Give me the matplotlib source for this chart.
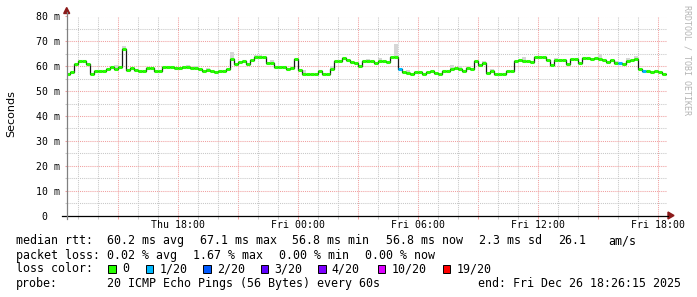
import numpy as np
import pandas as pd
import matplotlib
matplotlib.use('Agg')
import matplotlib.pyplot as plt
import matplotlib.dates as mdates
from matplotlib.ticker import MultipleLocator, FuncFormatter
from matplotlib.patches import Polygon, Rectangle
from matplotlib.lines import Line2D

W, H = 697, 297
MONO = 'DejaVu Sans Mono'

# median rtt (ms), one value per 12 min step, first step starts Thu 25 Dec 12:24
median_ms = [
    56.7, 57.8, 61.0, 62.0, 62.0, 61.0, 57.0, 58.2, 58.2, 58.2,
    59.0, 59.5, 58.8, 59.5, 67.1, 58.5, 59.3, 58.6, 58.0, 58.0,
    59.2, 59.2, 58.0, 58.0, 59.5, 59.5, 59.5, 59.4, 59.4, 59.5,
    59.5, 59.4, 59.4, 58.8, 58.2, 58.6, 58.0, 57.8, 58.2, 58.2,
    59.0, 63.0, 60.8, 61.7, 62.2, 60.8, 62.4, 63.7, 63.7, 63.7,
    61.4, 61.4, 59.5, 59.5, 59.5, 58.8, 59.4, 63.0, 58.4, 57.0,
    57.0, 57.0, 57.0, 58.2, 56.9, 56.9, 58.8, 62.2, 62.2, 63.3,
    62.4, 61.8, 61.3, 60.2, 62.0, 62.2, 62.0, 61.5, 62.0, 62.0,
    61.7, 63.7, 63.7, 58.8, 57.5, 57.3, 56.8, 57.5, 57.5, 56.8,
    57.6, 58.2, 57.3, 56.8, 58.0, 58.0, 58.7, 59.4, 58.7, 58.2,
    59.2, 58.7, 62.2, 60.5, 61.4, 57.3, 58.2, 56.9, 56.8, 56.8,
    58.0, 58.0, 62.0, 62.7, 62.0, 62.0, 61.7, 63.7, 63.7, 63.7,
    62.5, 60.5, 62.4, 62.5, 62.5, 60.8, 62.8, 62.8, 61.5, 63.5,
    63.5, 63.1, 63.5, 63.1, 62.7, 61.8, 62.4, 61.4, 61.4, 60.8,
    62.2, 62.7, 63.1, 58.8, 58.0, 58.0, 57.5, 57.9, 57.8, 56.8,
]
# steps where 1 of 20 pings got lost
loss_steps = [83, 138, 144]
# grey smoke above the median: step index and top of the ping spread (ms)
smoke_steps = [12, 14, 25, 30, 32, 35, 41, 47, 48, 51, 59, 66, 70, 75,
               78, 82, 85, 96, 98, 104, 106, 114, 122, 133, 137, 140, 142]
smoke_top = [60.7, 68.0, 60.3, 60.7, 60.2, 59.4, 65.8, 64.5, 64.5, 62.4,
             58.4, 60.0, 63.0, 63.1, 63.5, 69.1, 58.4, 60.7, 60.2, 62.3,
             58.7, 63.8, 63.5, 64.9, 62.0, 63.3, 64.2]

loss_labels = ['0', '1/20', '2/20', '3/20', '4/20', '10/20', '19/20']
loss_colors = ['#26ff00', '#00b8ff', '#0059ff', '#5e00ff', '#7e00ff', '#dd00ff', '#ff0000']

rtt_stats = ['60.2 ms avg', '67.1 ms max', '56.8 ms min', '56.8 ms now', '2.3 ms sd', '26.1', 'am/s']
loss_stats = ['0.02 % avg', '1.67 % max', '0.00 % min', '0.00 % now']

start = pd.Timestamp('2025-12-25 12:24')
t_begin = pd.Timestamp('2025-12-25 12:26:15')
t_end = pd.Timestamp('2025-12-26 18:26:15')
step_days = 12 / 1440.0

med = np.array(median_ms)
times = start + pd.to_timedelta(12 * np.arange(len(med)), unit='m')
tnum = mdates.date2num(times.to_pydatetime())

colors = [loss_colors[0]] * len(med)
for i in loss_steps:
    colors[i] = loss_colors[1]

fig = plt.figure(figsize=(W / 100, H / 100), dpi=100)
fig.patch.set_facecolor('white')
ax = fig.add_axes([66.75 / W, (H - 215.5) / H, 600 / W, 199 / H])
ax.set_facecolor('white')

# smoke
sidx = np.array(smoke_steps)
ax.bar(tnum[sidx], np.array(smoke_top) - med[sidx], bottom=med[sidx], width=step_days,
       align='edge', color='#d6d6d6', linewidth=0, zorder=2)

# median: thin black connectors + coloured step segments
ax.step(np.append(tnum, tnum[-1] + step_days), np.append(med, med[-1]), where='post',
        color='#1a1a1a', lw=0.9, zorder=3)
ax.hlines(med, tnum, tnum + step_days, colors=colors, lw=2.2, zorder=4)

ax.set_xlim(mdates.date2num(t_begin.to_pydatetime()), mdates.date2num(t_end.to_pydatetime()))
ax.set_ylim(0, 80)

ax.yaxis.set_major_locator(MultipleLocator(10))
ax.yaxis.set_minor_locator(MultipleLocator(5))
ax.yaxis.set_major_formatter(FuncFormatter(lambda v, p: '0  ' if v == 0 else '%d m' % v))
ax.xaxis.set_major_locator(mdates.HourLocator(byhour=range(0, 24, 3)))
ax.xaxis.set_minor_locator(mdates.HourLocator())
ax.xaxis.set_major_formatter(FuncFormatter(
    lambda v, p: mdates.num2date(v).strftime('%a %H:%M') if mdates.num2date(v).hour % 6 == 0 else ''))

red = '#f0a0a0'
grey = '#c8c8c8'
ax.grid(which='major', color=red, lw=0.75, linestyle=(0, (1, 1)), zorder=1)
ax.grid(which='minor', color=grey, lw=0.75, linestyle=(0, (1, 1)), zorder=1)
ax.set_axisbelow(True)
for s in ax.spines.values():
    s.set_visible(False)

ax.tick_params(axis='x', which='major', length=2.2, width=0.75, color=red, pad=1.0, labelsize=7.1)
ax.tick_params(axis='x', which='minor', length=2.2, width=0.75, color=grey)
ax.tick_params(axis='y', which='major', length=1.5, width=0.75, color=red, pad=3.4, labelsize=7.1)
ax.tick_params(axis='y', which='minor', length=1.5, width=0.75, color=grey)
for lab in ax.get_xticklabels() + ax.get_yticklabels():
    lab.set_fontfamily(MONO)


def fx(x):
    return x / W


def fy(y):
    return 1 - y / H


# axes with arrow heads
fig.add_artist(Line2D([fx(62), fx(668)], [fy(215.5), fy(215.5)], color='black', lw=0.9))
fig.add_artist(Polygon([(fx(668), fy(212)), (fx(674), fy(215.5)), (fx(668), fy(219))],
                       closed=True, color='#8b1a1a', transform=fig.transFigure))
fig.add_artist(Line2D([fx(66.7), fx(66.7)], [fy(219), fy(12)], color='#808080', lw=0.9))
fig.add_artist(Polygon([(fx(63.7), fy(13.5)), (fx(66.7), fy(7.5)), (fx(69.7), fy(13.5))],
                       closed=True, color='#8b1a1a', transform=fig.transFigure))

fig.text(fx(11), fy(113.5), 'Seconds', rotation=90, fontsize=8, ha='center', va='center')
fig.text(fx(687), fy(60), 'RRDTOOL / TOBI OETIKER', rotation=270, fontsize=6,
         family=MONO, color='#b4b4b4', ha='center', va='center')

fs = 8.4
row = [240.7, 255.3, 269.0, 283.3]

fig.text(fx(16), fy(row[0]), 'median rtt:', family=MONO, fontsize=fs, va='center')
for s, x in zip(rtt_stats, [107, 200, 292, 386, 479, 558, 608]):
    fig.text(fx(x), fy(row[0]), s, family=MONO, fontsize=fs, va='center')

fig.text(fx(16), fy(row[1]), 'packet loss:', family=MONO, fontsize=fs, va='center')
for s, x in zip(loss_stats, [107, 193, 279, 365]):
    fig.text(fx(x), fy(row[1]), s, family=MONO, fontsize=fs, va='center')

fig.text(fx(16), fy(row[2]), 'loss color:', family=MONO, fontsize=fs, va='center')
for lab, col, x in zip(loss_labels, loss_colors, [108.3, 146, 203.3, 261, 318.3, 377.7, 442.7]):
    fig.add_artist(Rectangle((fx(x), fy(272.5)), 7.3 / W, 7.3 / H, facecolor=col,
                             edgecolor='black', lw=0.7, transform=fig.transFigure))
    fig.text(fx(x + 13.5), fy(row[2]), lab, family=MONO, fontsize=fs, va='center')

fig.text(fx(16), fy(row[3]), 'probe:', family=MONO, fontsize=fs, va='center')
fig.text(fx(107), fy(row[3]), '20 ICMP Echo Pings (56 Bytes) every 60s', family=MONO,
         fontsize=fs, va='center')
fig.text(fx(478), fy(row[3]), 'end: Fri Dec 26 18:26:15 2025', family=MONO,
         fontsize=fs, va='center')

fig.savefig('out.png', dpi=100)
